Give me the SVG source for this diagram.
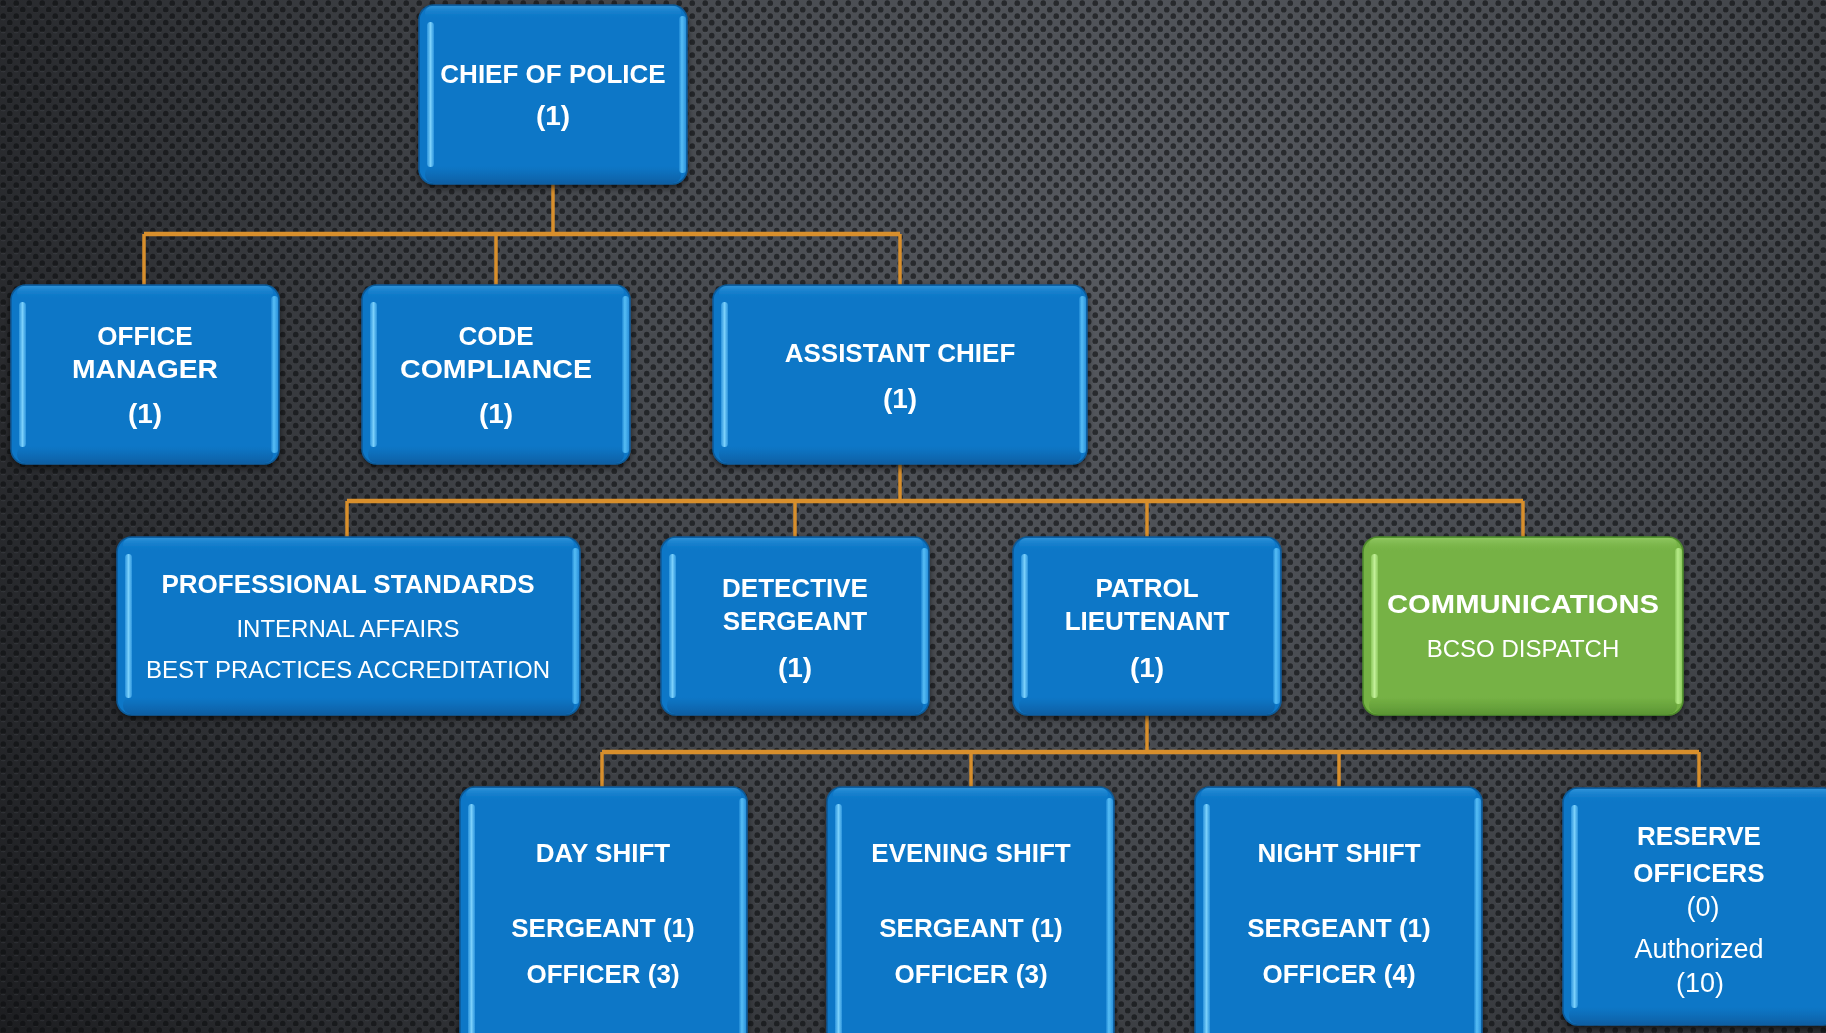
<svg xmlns="http://www.w3.org/2000/svg" width="1826" height="1033" viewBox="0 0 1826 1033">
<defs>
<radialGradient id="bg" cx="1150" cy="250" r="1400" gradientUnits="userSpaceOnUse">
<stop offset="0" stop-color="#575a60"/>
<stop offset="0.45" stop-color="#44474c"/>
<stop offset="1" stop-color="#1c1d20"/>
</radialGradient>
<pattern id="dots" width="13" height="13" patternUnits="userSpaceOnUse">
<ellipse cx="3.25" cy="3.25" rx="2.8" ry="3.1" fill="#0c0d0f" opacity="0.6"/>
<ellipse cx="9.75" cy="9.75" rx="2.8" ry="3.1" fill="#0c0d0f" opacity="0.6"/>
<ellipse cx="3.25" cy="6.3" rx="2.2" ry="0.9" fill="#9a9da3" opacity="0.12"/>
<ellipse cx="9.75" cy="12.8" rx="2.2" ry="0.9" fill="#9a9da3" opacity="0.12"/>
</pattern>
<filter id="sh" x="-10%" y="-10%" width="120%" height="130%">
<feDropShadow dx="0" dy="3" stdDeviation="3" flood-color="#000" flood-opacity="0.6"/>
</filter>
<linearGradient id="hlB" x1="0" y1="0" x2="1" y2="0">
<stop offset="0" stop-color="#2b93dc"/>
<stop offset="0.5" stop-color="#7ad0fb"/>
<stop offset="1" stop-color="#2b93dc"/>
</linearGradient>
<linearGradient id="rimB" x1="0" y1="0" x2="1" y2="0">
<stop offset="0" stop-color="#1d86d3"/>
<stop offset="0.4" stop-color="#56bdf5"/>
<stop offset="1" stop-color="#2a92dc"/>
</linearGradient>
<linearGradient id="botB" x1="0" y1="0" x2="0" y2="1">
<stop offset="0" stop-color="#0a62a8" stop-opacity="0"/>
<stop offset="1" stop-color="#07599c" stop-opacity="0.8"/>
</linearGradient>
<linearGradient id="topB" x1="0" y1="0" x2="0" y2="1">
<stop offset="0" stop-color="#3a9de0" stop-opacity="0.7"/>
<stop offset="1" stop-color="#0b77c7" stop-opacity="0"/>
</linearGradient>
<linearGradient id="hlG" x1="0" y1="0" x2="1" y2="0">
<stop offset="0" stop-color="#8cc95c"/>
<stop offset="0.5" stop-color="#c2ef98"/>
<stop offset="1" stop-color="#8cc95c"/>
</linearGradient>
<linearGradient id="rimG" x1="0" y1="0" x2="1" y2="0">
<stop offset="0" stop-color="#86c356"/>
<stop offset="0.4" stop-color="#b6ea88"/>
<stop offset="1" stop-color="#8fcb60"/>
</linearGradient>
<linearGradient id="botG" x1="0" y1="0" x2="0" y2="1">
<stop offset="0" stop-color="#5a9633" stop-opacity="0"/>
<stop offset="1" stop-color="#568f30" stop-opacity="0.8"/>
</linearGradient>
<linearGradient id="topG" x1="0" y1="0" x2="0" y2="1">
<stop offset="0" stop-color="#9ad06c" stop-opacity="0.7"/>
<stop offset="1" stop-color="#76b245" stop-opacity="0"/>
</linearGradient>
</defs>
<style>
.face{fill:#0b77c7;stroke:#0a5a98;stroke-width:1.5}
.faceG{fill:#76b245;stroke:#4e8a2b;stroke-width:1.5}
.hl{fill:url(#hlB)}
.rim{fill:url(#rimB)}
.bot{fill:url(#botB)}
.top{fill:url(#topB)}
.hlG{fill:url(#hlG)}
.rimG{fill:url(#rimG)}
.botG{fill:url(#botG)}
.topG{fill:url(#topG)}
.b{font-family:"Liberation Sans",Arial,sans-serif;font-weight:bold;font-size:26px;fill:#fff;text-anchor:middle}
.l{font-family:"Liberation Sans",Arial,sans-serif;font-weight:normal;font-size:24px;fill:#fff;text-anchor:middle}
.l2{font-family:"Liberation Sans",Arial,sans-serif;font-weight:normal;font-size:27px;fill:#fff;text-anchor:middle}
.c{fill:none;stroke:#d88f2c;stroke-width:3.5}
.ch{fill:none;stroke:#d88f2c;stroke-width:4.5}
</style>
<rect width="1826" height="1033" fill="url(#bg)"/>
<rect width="1826" height="1033" fill="url(#dots)"/>

<g id="connectors">
<path class="c" d="M553,184 V234 M144,234 V285 M496,234 V285 M900,234 V285"/>
<path class="ch" d="M144,234 H900"/>
<path class="c" d="M900,464 V501 M347,501 V537 M795,501 V537 M1147,501 V537 M1523,501 V537"/>
<path class="ch" d="M347,501 H1523"/>
<path class="c" d="M1147,715 V752 M602,752 V787 M971,752 V787 M1339,752 V787 M1699,752 V788"/>
<path class="ch" d="M602,752 H1699"/>
</g>

<g id="chief" filter="url(#sh)">
<rect class="face" x="419" y="5" width="268" height="179" rx="15"/>
<rect class="top" x="425" y="6" width="256" height="14" rx="7"/>
<rect class="bot" x="425" y="166" width="256" height="17" rx="8"/>
<rect class="hl" x="427" y="22" width="7" height="145" rx="3.5"/>
<rect class="rim" x="679" y="16" width="7" height="157" rx="3.5"/>
<text class="b" x="553" y="83">CHIEF OF POLICE</text>
<text class="b" x="553" y="125" style="font-size:28px">(1)</text>
</g>

<g id="office-manager" filter="url(#sh)">
<rect class="face" x="11" y="285" width="268" height="179" rx="15"/>
<rect class="top" x="17" y="286" width="256" height="14" rx="7"/>
<rect class="bot" x="17" y="446" width="256" height="17" rx="8"/>
<rect class="hl" x="19" y="302" width="7" height="145" rx="3.5"/>
<rect class="rim" x="271" y="296" width="7" height="157" rx="3.5"/>
<text class="b" x="145" y="345">OFFICE</text>
<text class="b" x="145" y="378" textLength="146" lengthAdjust="spacingAndGlyphs">MANAGER</text>
<text class="b" x="145" y="423" style="font-size:28px">(1)</text>
</g>

<g id="code-compliance" filter="url(#sh)">
<rect class="face" x="362" y="285" width="268" height="179" rx="15"/>
<rect class="top" x="368" y="286" width="256" height="14" rx="7"/>
<rect class="bot" x="368" y="446" width="256" height="17" rx="8"/>
<rect class="hl" x="370" y="302" width="7" height="145" rx="3.5"/>
<rect class="rim" x="622" y="296" width="7" height="157" rx="3.5"/>
<text class="b" x="496" y="345">CODE</text>
<text class="b" x="496" y="378" textLength="192" lengthAdjust="spacingAndGlyphs">COMPLIANCE</text>
<text class="b" x="496" y="423" style="font-size:28px">(1)</text>
</g>

<g id="assistant-chief" filter="url(#sh)">
<rect class="face" x="713" y="285" width="374" height="179" rx="15"/>
<rect class="top" x="719" y="286" width="362" height="14" rx="7"/>
<rect class="bot" x="719" y="446" width="362" height="17" rx="8"/>
<rect class="hl" x="721" y="302" width="7" height="145" rx="3.5"/>
<rect class="rim" x="1079" y="296" width="7" height="157" rx="3.5"/>
<text class="b" x="900" y="362">ASSISTANT CHIEF</text>
<text class="b" x="900" y="408" style="font-size:28px">(1)</text>
</g>

<g id="professional-standards" filter="url(#sh)">
<rect class="face" x="117" y="537" width="463" height="178" rx="15"/>
<rect class="top" x="123" y="538" width="451" height="14" rx="7"/>
<rect class="bot" x="123" y="697" width="451" height="17" rx="8"/>
<rect class="hl" x="125" y="554" width="7" height="144" rx="3.5"/>
<rect class="rim" x="572" y="548" width="7" height="156" rx="3.5"/>
<text class="b" x="348" y="593">PROFESSIONAL STANDARDS</text>
<text class="l" x="348" y="637">INTERNAL AFFAIRS</text>
<text class="l" x="348" y="678">BEST PRACTICES ACCREDITATION</text>
</g>

<g id="detective-sergeant" filter="url(#sh)">
<rect class="face" x="661" y="537" width="268" height="178" rx="15"/>
<rect class="top" x="667" y="538" width="256" height="14" rx="7"/>
<rect class="bot" x="667" y="697" width="256" height="17" rx="8"/>
<rect class="hl" x="669" y="554" width="7" height="144" rx="3.5"/>
<rect class="rim" x="921" y="548" width="7" height="156" rx="3.5"/>
<text class="b" x="795" y="597">DETECTIVE</text>
<text class="b" x="795" y="630">SERGEANT</text>
<text class="b" x="795" y="677" style="font-size:28px">(1)</text>
</g>

<g id="patrol-lieutenant" filter="url(#sh)">
<rect class="face" x="1013" y="537" width="268" height="178" rx="15"/>
<rect class="top" x="1019" y="538" width="256" height="14" rx="7"/>
<rect class="bot" x="1019" y="697" width="256" height="17" rx="8"/>
<rect class="hl" x="1021" y="554" width="7" height="144" rx="3.5"/>
<rect class="rim" x="1273" y="548" width="7" height="156" rx="3.5"/>
<text class="b" x="1147" y="597">PATROL</text>
<text class="b" x="1147" y="630">LIEUTENANT</text>
<text class="b" x="1147" y="677" style="font-size:28px">(1)</text>
</g>

<g id="communications" filter="url(#sh)">
<rect class="faceG" x="1363" y="537" width="320" height="178" rx="15"/>
<rect class="topG" x="1369" y="538" width="308" height="14" rx="7"/>
<rect class="botG" x="1369" y="697" width="308" height="17" rx="8"/>
<rect class="hlG" x="1371" y="554" width="7" height="144" rx="3.5"/>
<rect class="rimG" x="1675" y="548" width="7" height="156" rx="3.5"/>
<text class="b" x="1523" y="613" textLength="272" lengthAdjust="spacingAndGlyphs">COMMUNICATIONS</text>
<text class="l" x="1523" y="657">BCSO DISPATCH</text>
</g>

<g id="day-shift" filter="url(#sh)">
<rect class="face" x="460" y="787" width="287" height="260" rx="15"/>
<rect class="top" x="466" y="788" width="275" height="14" rx="7"/>
<rect class="hl" x="468" y="804" width="7" height="240" rx="3.5"/>
<rect class="rim" x="739" y="798" width="7" height="250" rx="3.5"/>
<text class="b" x="603" y="862">DAY SHIFT</text>
<text class="b" x="603" y="937">SERGEANT (1)</text>
<text class="b" x="603" y="983">OFFICER (3)</text>
</g>

<g id="evening-shift" filter="url(#sh)">
<rect class="face" x="827" y="787" width="287" height="260" rx="15"/>
<rect class="top" x="833" y="788" width="275" height="14" rx="7"/>
<rect class="hl" x="835" y="804" width="7" height="240" rx="3.5"/>
<rect class="rim" x="1106" y="798" width="7" height="250" rx="3.5"/>
<text class="b" x="971" y="862">EVENING SHIFT</text>
<text class="b" x="971" y="937">SERGEANT (1)</text>
<text class="b" x="971" y="983">OFFICER (3)</text>
</g>

<g id="night-shift" filter="url(#sh)">
<rect class="face" x="1195" y="787" width="287" height="260" rx="15"/>
<rect class="top" x="1201" y="788" width="275" height="14" rx="7"/>
<rect class="hl" x="1203" y="804" width="7" height="240" rx="3.5"/>
<rect class="rim" x="1474" y="798" width="7" height="250" rx="3.5"/>
<text class="b" x="1339" y="862">NIGHT SHIFT</text>
<text class="b" x="1339" y="937">SERGEANT (1)</text>
<text class="b" x="1339" y="983">OFFICER (4)</text>
</g>

<g id="reserve-officers" filter="url(#sh)">
<rect class="face" x="1563" y="788" width="275" height="237" rx="15"/>
<rect class="top" x="1569" y="789" width="263" height="14" rx="7"/>
<rect class="bot" x="1569" y="1007" width="263" height="17" rx="8"/>
<rect class="hl" x="1571" y="805" width="7" height="203" rx="3.5"/>
<text class="b" x="1699" y="845">RESERVE</text>
<text class="b" x="1699" y="882">OFFICERS</text>
<text class="l2" x="1703" y="916">(0)</text>
<text class="l2" x="1699" y="958">Authorized</text>
<text class="l2" x="1700" y="992">(10)</text>
</g>
</svg>
